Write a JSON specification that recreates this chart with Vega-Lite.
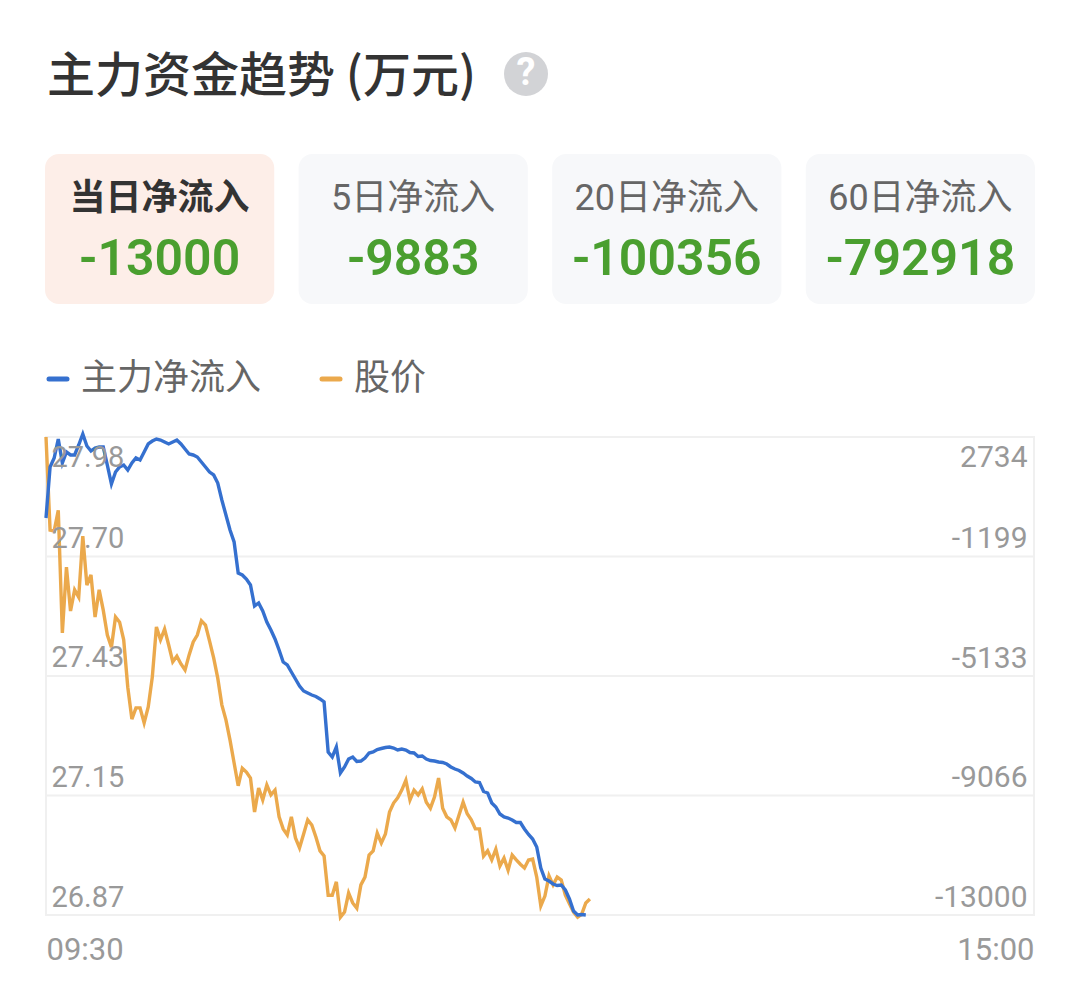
{"$schema":"https://vega.github.io/schema/vega-lite/v6.json","background":"#ffffff","padding":{"left":38,"top":0,"right":46,"bottom":10},"bounds":"flush","spacing":0,"resolve":{"scale":{"color":"independent"},"legend":{"color":"independent"}},"config":{"font":"Roboto, 'Noto Sans CJK SC'","view":{"stroke":null}},"vconcat":[{"width":988,"height":154,"data":{"values":[{"part":"title","text":"主力资金趋势 (万元)"},{"part":"help","text":"?"}]},"encoding":{"x":{"field":"part","type":"nominal","scale":{"type":"point","domain":["title","help"],"range":[1,480],"padding":0},"axis":null},"text":{"field":"text"}},"layer":[{"transform":[{"filter":"datum.part==='title'"}],"mark":{"type":"text","align":"left","baseline":"middle","fontSize":48,"fontWeight":500,"dy":1,"color":"#333333","font":"Noto Sans CJK SC"}},{"transform":[{"filter":"datum.part==='help'"}],"mark":{"type":"point","filled":true,"size":1936,"opacity":1,"color":"#d2d3d6","yOffset":-3}},{"transform":[{"filter":"datum.part==='help'"}],"mark":{"type":"text","align":"center","baseline":"middle","fontSize":38,"fontWeight":700,"dy":-3,"color":"#ffffff"}}]},{"width":988,"height":150,"data":{"values":[{"card":"当日净流入","value":"-13000","state":"current"},{"card":"5日净流入","value":"-9883","state":"other"},{"card":"20日净流入","value":"-100356","state":"other"},{"card":"60日净流入","value":"-792918","state":"other"}]},"encoding":{"x":{"field":"card","type":"nominal","sort":null,"scale":{"type":"band","range":[-1,989],"paddingInner":0.096,"paddingOuter":0},"axis":null}},"layer":[{"transform":[{"filter":"datum.state==='current'"}],"mark":{"type":"bar","cornerRadius":14,"color":"#fdeee8"}},{"transform":[{"filter":"datum.state==='other'"}],"mark":{"type":"bar","cornerRadius":14,"color":"#f7f8fa"}},{"transform":[{"filter":"datum.state==='current'"}],"mark":{"type":"text","fontSize":36,"fontWeight":700,"dy":-30,"color":"#333333"},"encoding":{"text":{"field":"card"}}},{"transform":[{"filter":"datum.state==='other'"}],"mark":{"type":"text","fontSize":36,"fontWeight":400,"dy":-30,"color":"#666666"},"encoding":{"text":{"field":"card"}}},{"mark":{"type":"text","fontSize":50,"fontWeight":600,"dy":31,"color":"#4a9f2f"},"encoding":{"text":{"field":"value"}}}]},{"width":988,"height":133,"data":{"values":[{"gap":""}]},"mark":{"type":"text"},"encoding":{"text":{"field":"gap"}}},{"width":988,"height":478,"view":{"stroke":"#f0f0f0","strokeWidth":2},"data":{"values":[{"minute":0,"time":"09:30","flow":68,"price":27.98},{"minute":1,"flow":1747,"price":27.764},{"minute":2,"flow":2043,"price":27.762},{"minute":3,"flow":2668,"price":27.81},{"minute":4,"flow":1878,"price":27.525},{"minute":5,"flow":2240,"price":27.678},{"minute":6,"flow":2142,"price":27.576},{"minute":7,"flow":2142,"price":27.625},{"minute":8,"flow":2471,"price":27.608},{"minute":9,"flow":2833,"price":27.75},{"minute":10,"flow":2438,"price":27.636},{"minute":11,"flow":2273,"price":27.66},{"minute":12,"flow":2372,"price":27.562},{"minute":13,"flow":2405,"price":27.625},{"minute":14,"flow":2405,"price":27.578},{"minute":15,"flow":1812,"price":27.52},{"minute":16,"flow":1187,"price":27.492},{"minute":17,"flow":1582,"price":27.562},{"minute":18,"flow":1747,"price":27.55},{"minute":19,"flow":1812,"price":27.509},{"minute":20,"flow":1648,"price":27.399},{"minute":21,"flow":1878,"price":27.325},{"minute":22,"flow":2043,"price":27.351},{"minute":23,"flow":1977,"price":27.351},{"minute":24,"flow":2240,"price":27.316},{"minute":25,"flow":2504,"price":27.353},{"minute":26,"flow":2602,"price":27.423},{"minute":27,"flow":2668,"price":27.539},{"minute":28,"flow":2635,"price":27.509},{"minute":29,"flow":2569,"price":27.534},{"minute":30,"flow":2504,"price":27.497},{"minute":31,"flow":2569,"price":27.458},{"minute":32,"flow":2635,"price":27.471},{"minute":33,"flow":2504,"price":27.453},{"minute":34,"flow":2339,"price":27.439},{"minute":35,"flow":2174,"price":27.474},{"minute":36,"flow":2142,"price":27.504},{"minute":37,"flow":2076,"price":27.52},{"minute":38,"flow":1911,"price":27.553},{"minute":39,"flow":1747,"price":27.543},{"minute":40,"flow":1582,"price":27.506},{"minute":41,"flow":1483,"price":27.467},{"minute":42,"flow":1220,"price":27.42},{"minute":43,"flow":660,"price":27.358},{"minute":44,"flow":167,"price":27.323},{"minute":45,"flow":-327,"price":27.276},{"minute":46,"flow":-722,"price":27.223},{"minute":47,"flow":-1743,"price":27.17},{"minute":48,"flow":-1808,"price":27.211},{"minute":49,"flow":-1940,"price":27.202},{"minute":50,"flow":-2138,"price":27.188},{"minute":51,"flow":-2829,"price":27.109},{"minute":52,"flow":-2730,"price":27.165},{"minute":53,"flow":-2993,"price":27.137},{"minute":54,"flow":-3355,"price":27.172},{"minute":55,"flow":-3619,"price":27.149},{"minute":56,"flow":-3915,"price":27.16},{"minute":57,"flow":-4277,"price":27.098},{"minute":58,"flow":-4672,"price":27.07},{"minute":59,"flow":-4771,"price":27.056},{"minute":60,"flow":-5001,"price":27.098},{"minute":61,"flow":-5232,"price":27.049},{"minute":62,"flow":-5462,"price":27.026},{"minute":63,"flow":-5627,"price":27.058},{"minute":64,"flow":-5692,"price":27.091},{"minute":65,"flow":-5758,"price":27.079},{"minute":66,"flow":-5808,"price":27.051},{"minute":67,"flow":-5890,"price":27.019},{"minute":68,"flow":-5989,"price":27.007},{"minute":69,"flow":-7635,"price":26.916},{"minute":70,"flow":-7799,"price":26.916},{"minute":71,"flow":-7470,"price":26.947},{"minute":72,"flow":-8326,"price":26.865},{"minute":73,"flow":-8128,"price":26.877},{"minute":74,"flow":-7865,"price":26.921},{"minute":75,"flow":-7799,"price":26.898},{"minute":76,"flow":-7947,"price":26.886},{"minute":77,"flow":-7931,"price":26.94},{"minute":78,"flow":-7832,"price":26.958},{"minute":79,"flow":-7667,"price":27.009},{"minute":80,"flow":-7635,"price":27.019},{"minute":81,"flow":-7552,"price":27.06},{"minute":82,"flow":-7519,"price":27.037},{"minute":83,"flow":-7486,"price":27.058},{"minute":84,"flow":-7470,"price":27.109},{"minute":85,"flow":-7503,"price":27.13},{"minute":86,"flow":-7569,"price":27.142},{"minute":87,"flow":-7536,"price":27.16},{"minute":88,"flow":-7569,"price":27.183},{"minute":89,"flow":-7651,"price":27.137},{"minute":90,"flow":-7667,"price":27.16},{"minute":91,"flow":-7783,"price":27.149},{"minute":92,"flow":-7766,"price":27.163},{"minute":93,"flow":-7865,"price":27.132},{"minute":94,"flow":-7914,"price":27.118},{"minute":95,"flow":-7931,"price":27.144},{"minute":96,"flow":-7964,"price":27.188},{"minute":97,"flow":-7980,"price":27.118},{"minute":98,"flow":-8030,"price":27.098},{"minute":99,"flow":-8128,"price":27.091},{"minute":100,"flow":-8194,"price":27.072},{"minute":101,"flow":-8243,"price":27.102},{"minute":102,"flow":-8326,"price":27.132},{"minute":103,"flow":-8425,"price":27.105},{"minute":104,"flow":-8507,"price":27.091},{"minute":105,"flow":-8622,"price":27.07},{"minute":106,"flow":-8638,"price":27.07},{"minute":107,"flow":-8935,"price":27.007},{"minute":108,"flow":-8984,"price":27.019},{"minute":109,"flow":-9313,"price":26.998},{"minute":110,"flow":-9445,"price":27.023},{"minute":111,"flow":-9675,"price":26.984},{"minute":112,"flow":-9774,"price":27.002},{"minute":113,"flow":-9807,"price":26.974},{"minute":114,"flow":-9873,"price":27.009},{"minute":115,"flow":-9955,"price":26.998},{"minute":116,"flow":-9955,"price":26.988},{"minute":117,"flow":-10169,"price":26.979},{"minute":118,"flow":-10350,"price":26.998},{"minute":119,"flow":-10498,"price":27.0},{"minute":120,"flow":-10762,"price":26.958},{"minute":121,"flow":-11453,"price":26.891},{"minute":122,"flow":-11815,"price":26.914},{"minute":123,"flow":-11881,"price":26.961},{"minute":124,"flow":-11979,"price":26.94},{"minute":125,"flow":-12029,"price":26.958},{"minute":126,"flow":-12012,"price":26.951},{"minute":127,"flow":-12177,"price":26.916},{"minute":128,"flow":-12473,"price":26.896},{"minute":129,"flow":-12868,"price":26.877},{"minute":130,"flow":-13000,"price":26.865},{"minute":131,"flow":-12984,"price":26.872},{"minute":132,"flow":-13000,"price":26.898},{"minute":133,"price":26.907}]},"layer":[{"data":{"values":[{"level":27.1476},{"level":27.4251},{"level":27.7026}]},"mark":{"type":"rule","color":"#f0f0f0","strokeWidth":2},"encoding":{"y":{"field":"level","type":"quantitative","scale":{"domain":[26.87,27.98],"nice":false,"zero":false},"axis":null}}},{"mark":{"type":"line","strokeWidth":3.4},"encoding":{"x":{"field":"minute","type":"quantitative","scale":{"domain":[0,241.6],"nice":false,"zero":false},"axis":{"values":[0,241.6],"labelExpr":"datum.value==0?'09:30':'15:00'","labelFlush":true,"domain":false,"ticks":false,"grid":false,"title":null,"labelFontSize":31,"labelColor":"#999999","labelPadding":20}},"y":{"field":"price","type":"quantitative","scale":{"domain":[26.87,27.98],"nice":false,"zero":false},"axis":{"orient":"left","values":[26.87,27.1476,27.4251,27.7026,27.98],"format":".2f","title":null,"domain":false,"ticks":false,"grid":false,"labelFontSize":29,"labelColor":"#999999","labelAlign":"left","labelBaseline":"middle","labelPadding":-5,"labelBound":false,"labelOverlap":false,"zindex":1,"labelOffset":{"expr":"datum.value>27.9?20:-18"}}},"color":{"datum":"股价","type":"nominal","scale":{"domain":["主力净流入","股价"],"range":["#3570cf","#eba94c"]},"legend":{"orient":"none","legendX":-6,"legendY":-76,"padding":0,"direction":"horizontal","title":null,"symbolType":"stroke","symbolSize":324,"symbolStrokeWidth":5,"labelFontSize":36,"labelColor":"#666666","labelLimit":400,"labelOffset":5,"columnPadding":50,"encode":{"symbols":{"update":{"strokeCap":{"value":"round"}}}}}}}},{"mark":{"type":"line","strokeWidth":3.4},"encoding":{"x":{"field":"minute","type":"quantitative"},"y":{"field":"flow","type":"quantitative","scale":{"domain":[-13000,2734],"nice":false,"zero":false},"axis":{"orient":"right","values":[-13000,-9066,-5133,-1199,2734],"labelExpr":"toString(datum.value)","title":null,"domain":false,"ticks":false,"grid":false,"labelFontSize":30,"labelColor":"#999999","labelAlign":"right","labelBaseline":"middle","labelPadding":-7,"labelBound":false,"labelOverlap":false,"zindex":1,"labelOffset":{"expr":"datum.value>2000?20:-18"}}},"color":{"datum":"主力净流入","type":"nominal"}}}],"resolve":{"scale":{"y":"independent"}}}]}
